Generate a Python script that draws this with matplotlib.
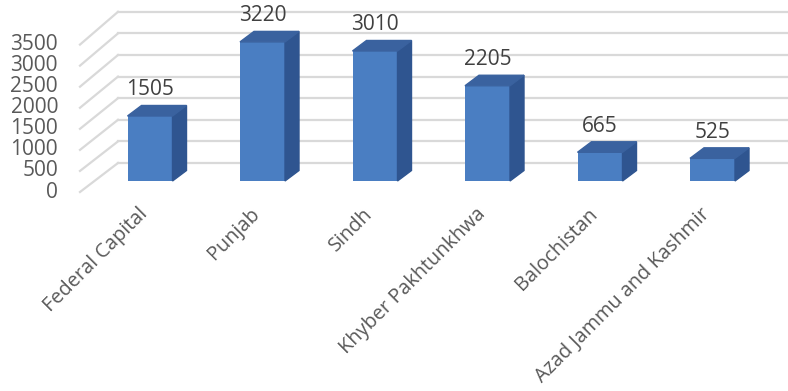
import matplotlib.pyplot as plt
from matplotlib.patches import Polygon

categories = ['Federal Capital', 'Punjab', 'Sindh', 'Khyber Pakhtunkhwa',
              'Balochistan', 'Azad Jammu and Kashmir']
values = [1505, 3220, 3010, 2205, 665, 525]
yticks = [0, 500, 1000, 1500, 2000, 2500, 3000, 3500]

W, H = 788, 391
fig = plt.figure(figsize=(W / 100, H / 100), dpi=100)
ax = fig.add_axes([0, 0, 1, 1])

# pixel geometry -> data units
px_x = 1 / 112.5          # category units per pixel
px_y = 23.15              # value units per pixel
base_px, first_px = 181, 150
ax.set_xlim(-first_px * px_x, (W - first_px) * px_x)
ax.set_ylim(-(H - base_px) * px_y, base_px * px_y)
ax.axis('off')

grid_c = '#d9d9d9'
front_c, side_c, top_c = '#4a7ec2', '#2f5590', '#3a629f'
txt_c = '#595959'
font = 'Open Sans'

# back wall / left wall gridlines
back_dy = 18 * px_y
front_dy = -11 * px_y
left_back = -first_px * px_x + 118 * px_x
for v in yticks:
    ax.plot([left_back, ax.get_xlim()[1]], [v + back_dy, v + back_dy],
            color=grid_c, lw=1.6, zorder=1)
    ax.plot([left_back - 38 * px_x, left_back], [v + front_dy - 0.025 * v, v + back_dy],
            color=grid_c, lw=1.6, zorder=1)
    ax.text(left_back - 60 * px_x, v + front_dy - 0.025 * v, str(v), ha='right', va='center',
            fontsize=15, color=txt_c, family=font)

# 3d-looking bars
w = 0.4
dx, dy = 14 * px_x, 10.5 * px_y
xs = list(range(len(categories)))
ax.bar(xs, values, width=w, color=front_c, zorder=3)
for x, v in zip(xs, values):
    r = x + w / 2
    l = x - w / 2
    ax.add_patch(Polygon([(r, 0), (r + dx, dy), (r + dx, v + dy), (r, v)],
                         closed=True, color=side_c, zorder=3))
    ax.add_patch(Polygon([(l, v), (r, v), (r + dx, v + dy), (l + dx, v + dy)],
                         closed=True, color=top_c, zorder=3))
    ax.text(x, v + dy + 5 * px_y, str(v), ha='center', va='bottom',
            fontsize=15, color='#404040', family=font, zorder=4)

for x, name in zip(xs, categories):
    ax.text(x - 0.11, -23 * px_y, name, rotation=45, ha='right', va='top',
            rotation_mode='anchor', fontsize=14.3, color=txt_c, family=font)

fig.savefig('out.png', dpi=100, facecolor='white')
